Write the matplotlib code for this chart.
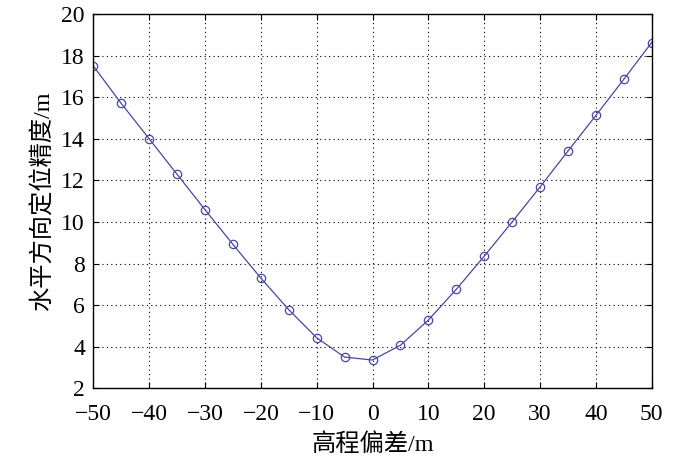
#!/usr/bin/env python3
import matplotlib
matplotlib.use("Agg")
import matplotlib.pyplot as plt

# 高程偏差 / 水平方向定位精度
offset = [-50, -45, -40, -35, -30, -25, -20, -15, -10, -5, 0,
          5, 10, 15, 20, 25, 30, 35, 40, 45, 50]
accuracy = [17.5, 15.7, 14.0, 12.29, 10.59, 8.92, 7.3, 5.78, 4.43, 3.5, 3.36,
            4.07, 5.28, 6.76, 8.35, 10.0, 11.68, 13.41, 15.12, 16.86, 18.63]
xticks = list(range(-50, 51, 10))
yticks = list(range(2, 21, 2))

plt.rcParams['font.family'] = ['Liberation Serif', 'Noto Sans CJK SC']
plt.rcParams['axes.unicode_minus'] = True

fig = plt.figure(figsize=(7, 4.61), dpi=100)
ax = fig.add_axes([0.1333, 0.1577, 0.7977, 0.8119])

ax.plot(offset, accuracy, color='#4848a0', lw=0.9, marker='o', ms=6,
        mfc='none', mec='#4848a0', mew=0.9)

ax.set_xlim(-50, 50)
ax.set_ylim(2, 20)
ax.set_xticks(xticks)
ax.set_yticks(yticks)
ax.tick_params(direction='in', top=True, right=True, labelsize=17, length=4)
ax.tick_params(axis='x', pad=11)
ax.tick_params(axis='y', pad=6)
ax.grid(True, linestyle=(0, (1, 3)), color='black', lw=0.8)
for s in ax.spines.values():
    s.set_linewidth(1.0)

ax.set_xlabel('高程偏差/m', fontsize=17.5, labelpad=6)
ax.set_ylabel('水平方向定位精度/m', fontsize=17.5, labelpad=5)

plt.savefig('out.png')
